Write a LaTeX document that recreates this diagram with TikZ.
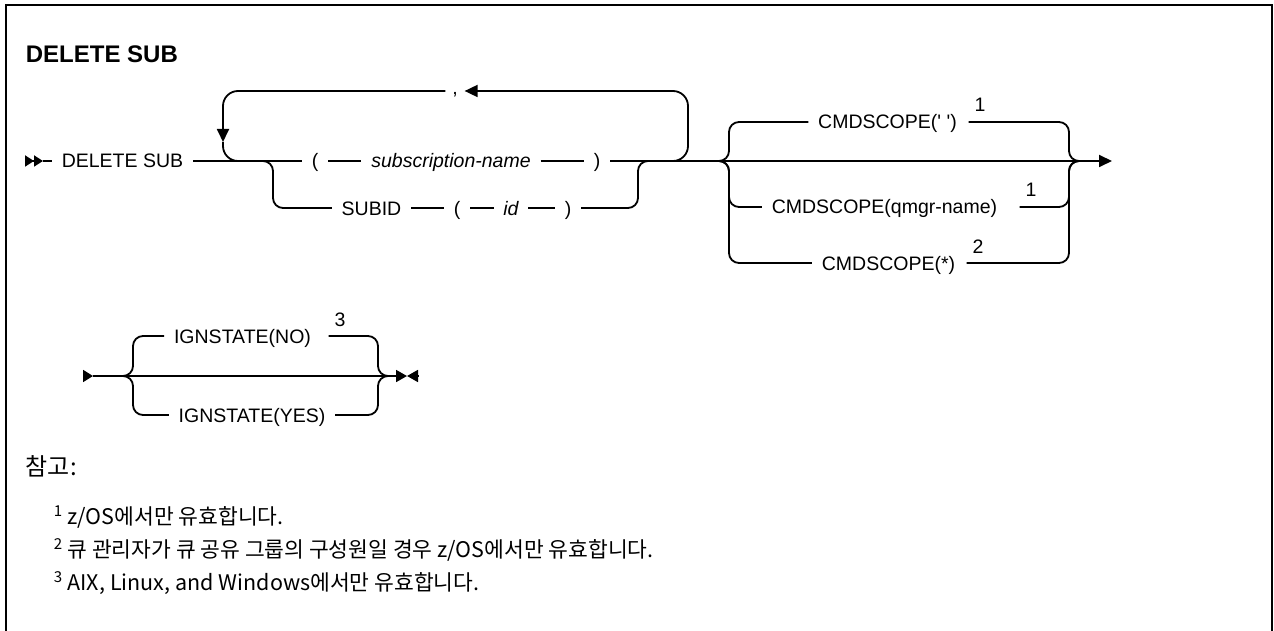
\documentclass[tikz,border=0pt]{standalone}
\usepackage{fontspec}
\setmainfont{Liberation Sans}
\newfontfamily\krfont{Noto Sans CJK KR}
\usepackage{tikz}
\usetikzlibrary{arrows.meta}

\newcommand{\railfont}{\fontsize{19.5}{22}\selectfont}
\newcommand{\titlefont}{\fontsize{24}{28}\selectfont\bfseries}
\newcommand{\notefont}{\krfont\fontsize{21.5}{25}\selectfont}
\newcommand{\headfont}{\krfont\fontsize{24}{28}\selectfont}

\begin{document}
\begin{tikzpicture}[x=1pt, y=-1pt, line width=1.8pt,
                    >={Triangle[length=13pt, width=12pt]},
                    rail/.style={rounded corners=10pt},
                    repeatline/.style={rounded corners=15pt},
                    kwbox/.style={inner xsep=9pt, inner ysep=0pt, text height=14pt, text depth=0pt, font=\railfont},
                    varbox/.style={kwbox, font=\railfont\itshape},
                    supnum/.style={inner xsep=5pt, inner ysep=0pt, font=\railfont},
                    notetext/.style={anchor=base west, inner sep=0pt, font=\notefont}]

    \useasboundingbox (0, 0) rectangle (1274, 631);
    \draw[line width=2.5pt] (6, 631) -- (6, 5) -- (1272, 5) -- (1272, 631);

    \node[anchor=base west, inner sep=0pt, font=\titlefont] (title) at (25, 63) {DELETE SUB};

    % first line
    \coordinate (start)  at (25, 161);
    \coordinate (startA) at (43, 161);
    \coordinate (loopL)  at (240, 161);
    \coordinate (loopA)  at (223, 142);
    \coordinate (downL)  at (263, 161);
    \coordinate (downLv) at (273, 161);
    \coordinate (upRv)   at (638, 161);
    \coordinate (upR)    at (648, 161);
    \coordinate (loopR)  at (670, 161);
    \coordinate (loopRv) at (688, 161);
    \coordinate (csL)    at (719, 161);
    \coordinate (csLv)   at (729, 161);
    \coordinate (csRv)   at (1069, 161);
    \coordinate (csR)    at (1079, 161);
    \coordinate (csEnd)  at (1112, 161);

    \node[kwbox]  (cmd)   at (122.5, 161) {DELETE SUB};
    \node[kwbox]  (lpA)   at (315, 161)   {(};
    \node[varbox] (subnm) at (451, 161)   {subscription-name};
    \node[kwbox]  (rpA)   at (597, 161)   {)};
    \node[kwbox]  (subid) at (371.5, 208) {SUBID};
    \node[kwbox]  (lpB)   at (457, 208)   {(};
    \node[varbox] (idnm)  at (511, 208)   {id};
    \node[kwbox]  (rpB)   at (568, 208)   {)};
    \node[inner xsep=6pt, inner ysep=0pt, font=\railfont] (sep) at (455, 91) {\raisebox{-4pt}[0pt][0pt]{,}};

    \draw[-{Triangle[length=9pt, width=11pt] Triangle[length=9pt, width=11pt]}] (start) -- (startA);
    \draw (startA) -- (cmd.west);
    \draw (cmd.east) -- (lpA.west);
    \draw (lpA.east) -- (subnm.west);
    \draw (subnm.east) -- (rpA.west);
    \draw[->] (rpA.east) -- (csEnd);

    % repeat arrow
    \draw[repeatline, ->] (loopR) -- (loopRv) |- (sep.east);
    \draw[repeatline, ->] (sep.west) -| (loopA);
    \draw[repeatline] (loopA) |- (loopL);

    \draw[rail] (downL) -- (downLv) |- (subid.west);
    \draw (subid.east) -- (lpB.west);
    \draw (lpB.east) -- (idnm.west);
    \draw (idnm.east) -- (rpB.west);
    \draw[rail] (rpB.east) -| (upRv) -- (upR);

    \node[kwbox]  (csBlank) at (887.5, 122) {CMDSCOPE(\textquotesingle{} \textquotesingle)};
    \node[kwbox]  (csQmgr)  at (884.5, 207) {CMDSCOPE(qmgr-name)};
    \node[kwbox]  (csAll)   at (888.5, 263) {CMDSCOPE(*)};
    \node[supnum] (fnBlank) at (980, 105)   {1};
    \node[supnum] (fnQmgr)  at (1031, 190)  {1};
    \node[supnum] (fnAll)   at (978, 247)   {2};

    \foreach \opt in {csBlank, csQmgr, csAll}
        \draw[rail] (csL) -- (csLv) |- (\opt.west);
    \draw[rail] (fnBlank.west |- csBlank.east) -| (csRv) -- (csR);
    \draw[rail] (fnQmgr.west |- csQmgr.east) -| (csRv) -- (csR);
    \draw[rail] (fnAll.west |- csAll.east) -| (csRv) -- (csR);

    % second line
    \coordinate (igStart) at (83, 376);
    \coordinate (igA)     at (93, 376);
    \coordinate (igL)     at (123, 376);
    \coordinate (igLv)    at (133, 376);
    \coordinate (igRv)    at (378, 376);
    \coordinate (igR)     at (388, 376);
    \coordinate (igEnd)   at (407, 376);
    \coordinate (igStop)  at (418, 376);

    \node[kwbox]  (igNo)  at (242.5, 336) {IGNSTATE(NO)};
    \node[kwbox]  (igYes) at (252, 415)   {IGNSTATE(YES)};
    \node[supnum] (fnNo)  at (340, 320)   {3};

    \draw[-{Triangle[length=10pt, width=12pt]}] (igStart) -- (igA);
    \draw[-{Triangle[length=11pt, width=12pt]}] (igA) -- (igEnd);
    \draw[-{Triangle[length=11pt, width=12pt]}] (igStop) -- (igEnd);
    \draw[rail] (igL) -- (igLv) |- (igNo.west);
    \draw[rail] (igL) -- (igLv) |- (igYes.west);
    \draw[rail] (fnNo.west |- igNo.east) -| (igRv) -- (igR);
    \draw[rail] (igYes.east) -| (igRv) -- (igR);

    % notes
    \node[notetext, font=\headfont] (noteHead) at (25, 475) {참고:};
    \node[notetext] (noteA) at (53, 524) {\textsuperscript{1} z/OS에서만 유효합니다.};
    \node[notetext] (noteB) at (53, 557) {\textsuperscript{2} 큐 관리자가 큐 공유 그룹의 구성원일 경우 z/OS에서만 유효합니다.};
    \node[notetext] (noteC) at (53, 590) {\textsuperscript{3} AIX, Linux, and Windows에서만 유효합니다.};

\end{tikzpicture}
\end{document}
